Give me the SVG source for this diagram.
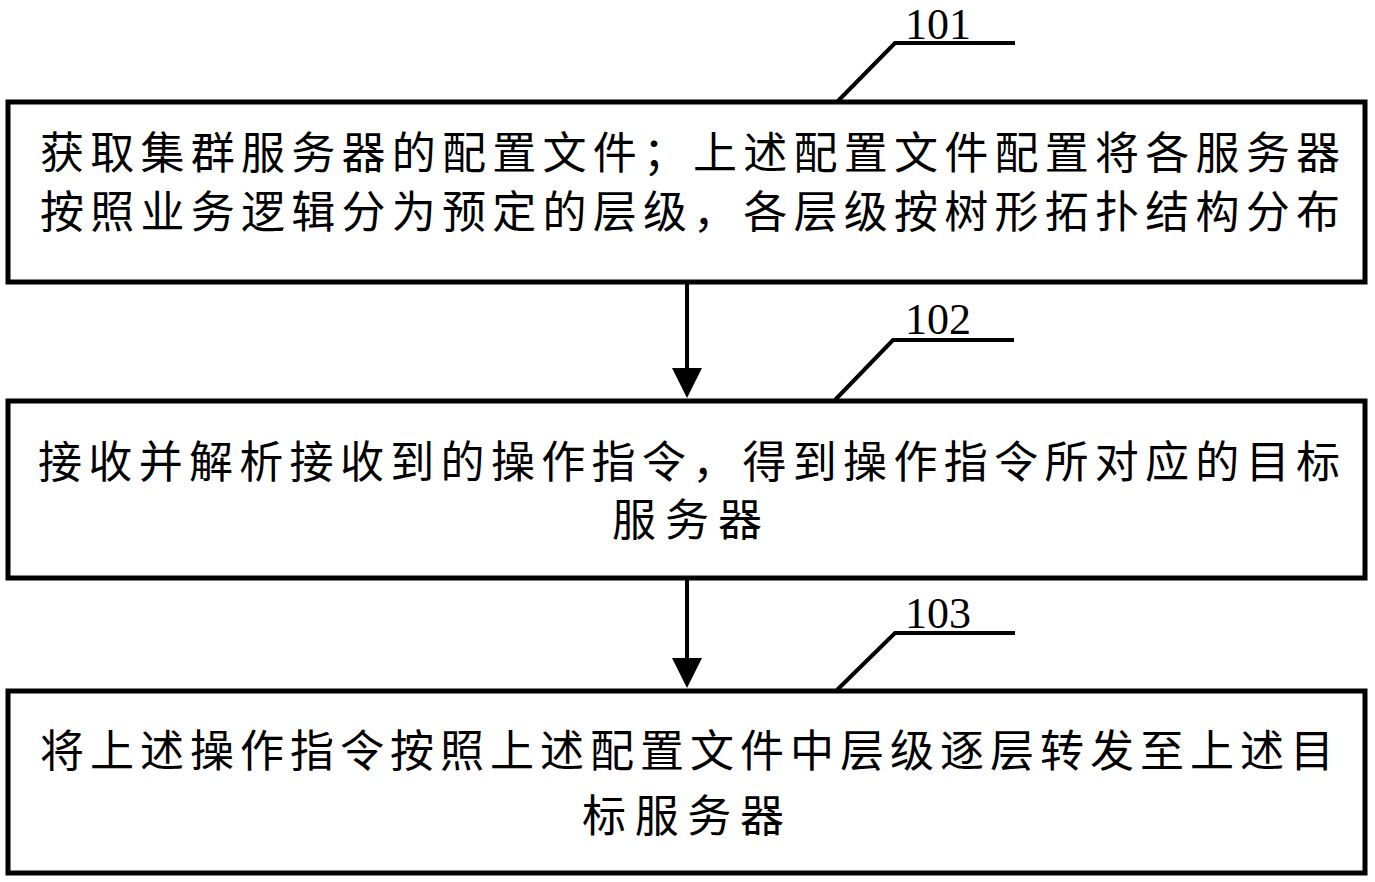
<svg xmlns="http://www.w3.org/2000/svg" width="1375" height="882" viewBox="0 0 1375 882">
<style>
.box{fill:#fff;stroke:#000;stroke-width:5}
.lead{fill:none;stroke:#000;stroke-width:4}
.conn{stroke:#000;stroke-width:4;fill:none}
.head{fill:#000}
.t{font-family:"Noto Sans CJK SC","Noto Sans CJK TC",serif;font-size:44px;fill:#000}
.n{font-family:"Liberation Serif","Times New Roman",serif;font-size:44px;fill:#000}
</style>
<rect width="1375" height="882" fill="#fff"/>
<g id="connectors">
<line class="conn" x1="687" y1="284" x2="687" y2="370"/>
<path class="head" d="M672,368 L702,368 L687,398 Z"/>
<line class="conn" x1="687" y1="580" x2="687" y2="660"/>
<path class="head" d="M672,658 L702,658 L687,688 Z"/>
</g>
<g id="node101">
<rect class="box" x="8" y="102" width="1357" height="180"/>
<path class="lead" d="M837,102 L895,43 L1015,43"/>
<text class="n" x="905" y="39" textLength="66" lengthAdjust="spacingAndGlyphs">101</text>
<text class="t" x="40" y="169" textLength="1300" lengthAdjust="spacing">获取集群服务器的配置文件；上述配置文件配置将各服务器</text>
<text class="t" x="40" y="228" textLength="1300" lengthAdjust="spacing">按照业务逻辑分为预定的层级，各层级按树形拓扑结构分布</text>
</g>
<g id="node102">
<rect class="box" x="8" y="401" width="1357" height="177"/>
<path class="lead" d="M835,400 L893,340 L1014,340"/>
<text class="n" x="905" y="334" textLength="66" lengthAdjust="spacingAndGlyphs">102</text>
<text class="t" x="38" y="478" textLength="1302" lengthAdjust="spacing">接收并解析接收到的操作指令，得到操作指令所对应的目标</text>
<text class="t" x="612" y="536" textLength="150" lengthAdjust="spacing">服务器</text>
</g>
<g id="node103">
<rect class="box" x="8" y="691" width="1357" height="182"/>
<path class="lead" d="M837,690 L895,633 L1015,633"/>
<text class="n" x="905" y="628" textLength="66" lengthAdjust="spacingAndGlyphs">103</text>
<text class="t" x="40" y="767" textLength="1294" lengthAdjust="spacing">将上述操作指令按照上述配置文件中层级逐层转发至上述目</text>
<text class="t" x="582" y="832" textLength="202" lengthAdjust="spacing">标服务器</text>
</g>
</svg>
